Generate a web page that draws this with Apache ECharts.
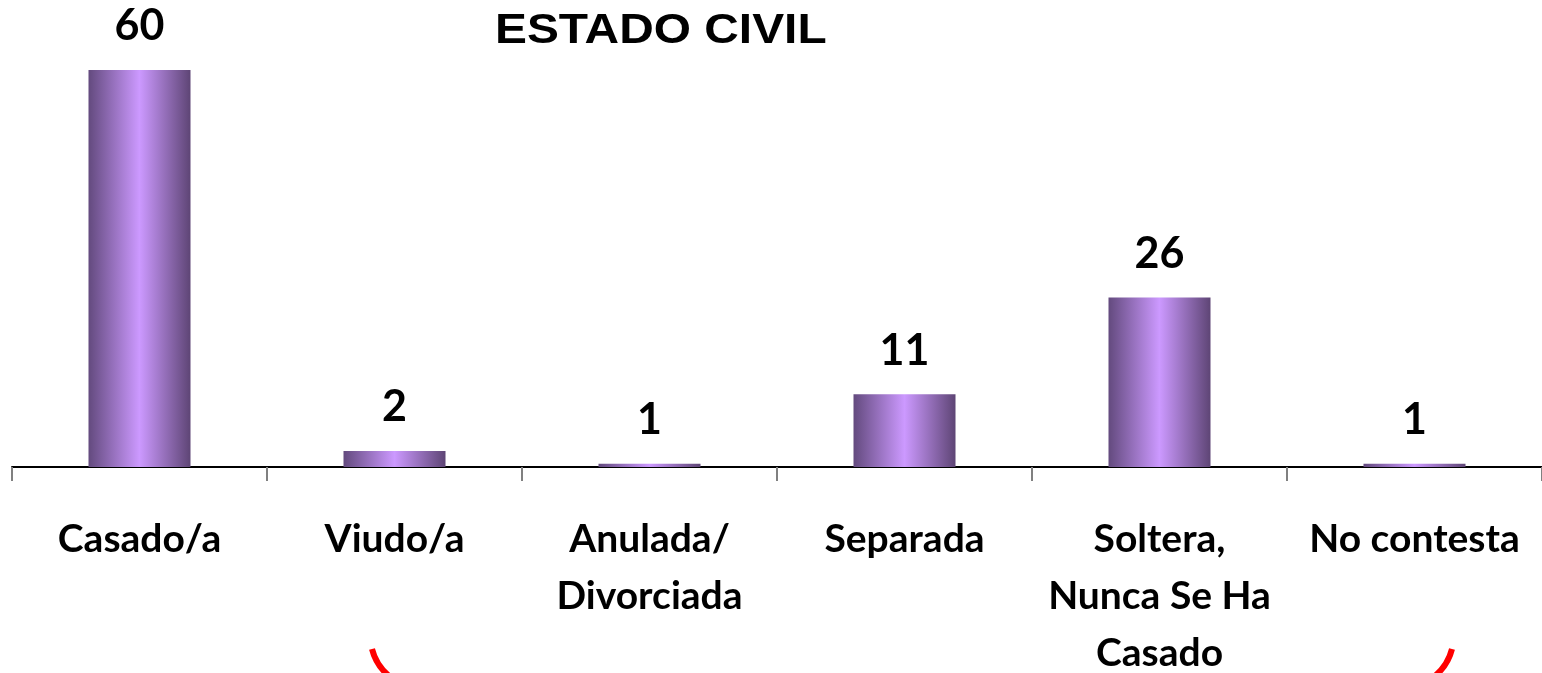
<!DOCTYPE html>
<html>
<head>
<meta charset="utf-8">
<title>Estado civil</title>
<script src="https://cdn.jsdelivr.net/npm/echarts@6/dist/echarts.min.js"></script>
<style>
    html, body { margin: 0; padding: 0; background: #fff; }
    #chart { width: 1542px; height: 673px; }
</style>
</head>
<body>
<div id="chart"></div>
<script>
// categorias del eje x
var categorias = ['Casado/a', 'Viudo/a', 'Anulada/\nDivorciada', 'Separada', 'Soltera,\nNunca Se Ha\nCasado', 'No contesta'];
// porcentajes (altura de las barras)
var valores = [60, 2.4, 0.5, 11, 25.6, 0.5];

var myChart = echarts.init(document.getElementById('chart'));

var barColor = new echarts.graphic.LinearGradient(0, 0, 1, 0, [
    { offset: 0, color: '#634a7e' },
    { offset: 0.5, color: '#cc99ff' },
    { offset: 1, color: '#5e4575' }
]);

var option = {
    backgroundColor: '#fff',
    animation: false,
    grid: { left: 12, right: 0, top: 70, bottom: 206, outerBoundsMode: 'none', containLabel: false },
    xAxis: {
        type: 'category',
        data: categorias,
        axisLine: { lineStyle: { color: '#000', width: 2 } },
        axisTick: { show: true, length: 14, lineStyle: { color: '#808080', width: 2 } },
        axisLabel: {
            interval: 0,
            margin: 44,
            color: '#000',
            fontFamily: 'Lato',
            fontWeight: 'bold',
            fontSize: 39,
            lineHeight: 57
        }
    },
    yAxis: {
        type: 'value',
        min: 0,
        max: 60,
        show: false,
        splitLine: { show: false }
    },
    series: [{
        type: 'bar',
        data: valores,
        barWidth: '40%',
        itemStyle: { color: barColor },
        label: {
            show: true,
            position: 'top',
            distance: 22,
            color: '#000',
            fontFamily: 'Lato',
            fontWeight: 'bold',
            fontSize: 43,
            formatter: function (p) {
                return Math.round(p.value);
            }
        }
    }],
    graphic: [{
        // titulo, algo estirado a lo ancho como en el original
        type: 'text',
        x: 495,
        y: 10,
        scaleX: 1.14,
        style: {
            text: 'ESTADO CIVIL',
            font: 'bold 42px "Liberation Sans", Arial, sans-serif',
            fill: '#000',
            verticalAlign: 'top'
        }
    }, {
        // trazos rojos que asoman abajo
        type: 'bezierCurve',
        shape: { x1: 372, y1: 649, cpx1: 376, cpy1: 665, x2: 389, y2: 676 },
        style: { stroke: '#ff0000', lineWidth: 6, fill: null }
    }, {
        type: 'bezierCurve',
        shape: { x1: 1452, y1: 649, cpx1: 1448, cpy1: 665, x2: 1435, y2: 676 },
        style: { stroke: '#ff0000', lineWidth: 6, fill: null }
    }]
};

myChart.setOption(option);
</script>
</body>
</html>
